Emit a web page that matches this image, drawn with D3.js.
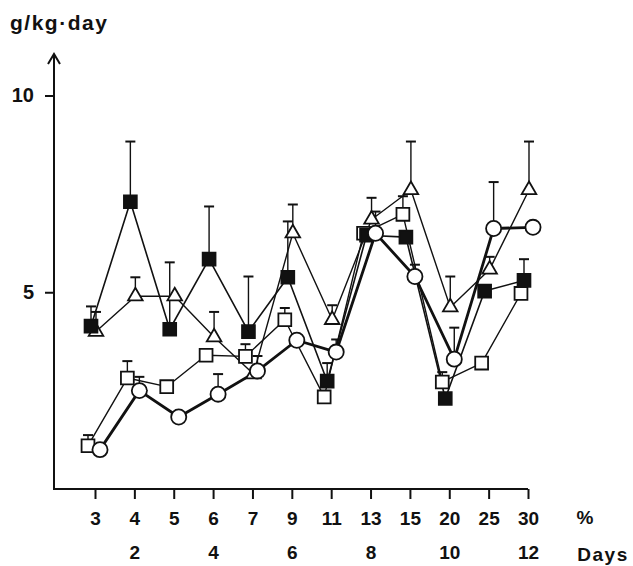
<!DOCTYPE html>
<html>
<head>
<meta charset="utf-8">
<script src="https://cdn.jsdelivr.net/npm/d3@7"></script>
<style>
  body { margin: 0; background: #fff; }
  svg text { font-family: "Liberation Sans", Arial, sans-serif; font-weight: bold; fill: #111; }
</style>
</head>
<body>
<div id="chart"></div>
<script>
// categories (% along the axis) and the days row under every second one
var categories = ["3", "4", "5", "6", "7", "9", "11", "13", "15", "20", "25", "30"];
var dayLabels = ["", "2", "", "4", "", "6", "", "8", "", "10", "", "12"];
var yTicks = [5, 10];

// means, and top of the error bar (null = no bar drawn)
var filledSquare = [4.14, 7.3, 4.06, 5.84, 4.0, 5.38, 2.74, 6.45, 6.4, 2.3, 5.03, 5.3];
var filledSquareErr = [4.64, 8.83, 5.76, 7.18, 5.4, 6.8, 3.2, null, null, null, null, 5.84];
var triangle = [4.0, 4.9, 4.9, 3.86, 2.92, 6.5, 4.3, 6.85, 7.6, 4.62, 5.58, 7.6];
var triangleErr = [4.5, 5.38, null, 4.5, null, 7.23, 4.67, 7.4, 8.83, 5.4, 5.9, 8.83];
var openSquare = [1.1, 2.82, 2.6, 3.4, 3.37, 4.3, 2.34, 6.5, 6.98, 2.72, 3.2, 4.97];
var openSquareErr = [1.37, 3.25, null, null, 3.68, 4.6, null, null, 7.44, 2.97, 3.35, null];
var circle = [1.0, 2.5, 1.83, 2.41, 3.0, 3.78, 3.48, 6.5, 5.4, 3.3, 6.62, 6.65];
var circleErr = [null, 2.85, null, 2.92, 3.38, null, 3.8, 7.05, 5.7, 4.1, 7.8, null];

var w = 633, h = 566;

var svg = d3.select("#chart").append("svg")
    .attr("width", w)
    .attr("height", h);

var x = d3.scalePoint().domain(categories).range([95, 528]);
var y = d3.scaleLinear().domain([0, 10]).range([489, 95.5]);

var axisX = 54;

// series, in drawing order (circles end up on top)
var series = [
    {values: openSquare, err: openSquareErr, type: d3.symbolSquare, size: 165, fill: "#fff", dx: -7, lw: 1.4},
    {values: triangle, err: triangleErr, type: d3.symbolTriangle, size: 92, fill: "#fff", dx: 1, lw: 1.4},
    {values: filledSquare, err: filledSquareErr, type: d3.symbolSquare, size: 165, fill: "#111", dx: -4, lw: 1.6},
    {values: circle, err: circleErr, type: d3.symbolCircle, size: 180, fill: "#fff", dx: 5, lw: 2.8}
];

// -----------------------------------------------------------------
// axes

// x axis baseline, starts at the y axis
svg.append("line")
    .attr("x1", axisX).attr("x2", x("30"))
    .attr("y1", y(0)).attr("y2", y(0))
    .attr("stroke", "#111").attr("stroke-width", 2);

var gx = svg.append("g")
    .attr("transform", "translate(0," + y(0) + ")")
    .call(d3.axisBottom(x).tickSize(10).tickSizeOuter(0).tickPadding(6));
gx.select(".domain").remove();
gx.selectAll(".tick line").attr("stroke", "#111").attr("stroke-width", 2);
gx.selectAll(".tick text").style("font-size", "19px").attr("dy", "1.05em");

var gd = svg.append("g")
    .attr("transform", "translate(0," + (y(0) + 53) + ")")
    .call(d3.axisBottom(x).tickSize(0).tickFormat(function (d, i) { return dayLabels[i]; }));
gd.select(".domain").remove();
gd.selectAll(".tick text").style("font-size", "19px");

svg.append("text").attr("x", 585).attr("y", 524)
    .attr("text-anchor", "middle").style("font-size", "19px").text("%");
svg.append("text").attr("x", 603).attr("y", 561)
    .attr("text-anchor", "middle").style("font-size", "19px")
    .style("letter-spacing", "1.5px").text("Days");

// y axis with arrow
svg.append("line")
    .attr("x1", axisX).attr("x2", axisX)
    .attr("y1", y(0) + 1).attr("y2", 55)
    .attr("stroke", "#111").attr("stroke-width", 2);
svg.append("path")
    .attr("d", "M" + (axisX - 6) + ",64 L" + axisX + ",54 L" + (axisX + 6) + ",64")
    .attr("fill", "none").attr("stroke", "#111").attr("stroke-width", 2);

var gy = svg.append("g")
    .attr("transform", "translate(" + axisX + ",0)")
    .call(d3.axisLeft(y).tickValues(yTicks).tickSize(9).tickPadding(11));
gy.select(".domain").remove();
gy.selectAll(".tick line").attr("stroke", "#111").attr("stroke-width", 2);
gy.selectAll(".tick text").style("font-size", "20px");

svg.append("text").attr("x", 10).attr("y", 30)
    .style("font-size", "21px").style("letter-spacing", "1.5px")
    .text("g/kg\u00b7day");

// -----------------------------------------------------------------
// error bars, lines, then markers

series.forEach(function (s) {
    var bars = categories.map(function (c, i) {
        return {c: c, v: s.values[i], e: s.err[i]};
    }).filter(function (d) { return d.e != null; });

    var g = svg.append("g");
    g.selectAll("line.bar").data(bars).enter().append("line")
        .attr("x1", function (d) { return x(d.c) + s.dx; })
        .attr("x2", function (d) { return x(d.c) + s.dx; })
        .attr("y1", function (d) { return y(d.v); })
        .attr("y2", function (d) { return y(d.e); })
        .attr("stroke", "#111").attr("stroke-width", 1.4);
    g.selectAll("line.cap").data(bars).enter().append("line")
        .attr("x1", function (d) { return x(d.c) + s.dx - 5; })
        .attr("x2", function (d) { return x(d.c) + s.dx + 5; })
        .attr("y1", function (d) { return y(d.e); })
        .attr("y2", function (d) { return y(d.e); })
        .attr("stroke", "#111").attr("stroke-width", 2);
});

series.forEach(function (s) {
    var line = d3.line()
        .x(function (d, i) { return x(categories[i]) + s.dx; })
        .y(function (d) { return y(d); });
    svg.append("path")
        .datum(s.values)
        .attr("d", line)
        .attr("fill", "none")
        .attr("stroke", "#111")
        .attr("stroke-width", s.lw)
        .attr("stroke-linejoin", "round");
});

series.forEach(function (s) {
    svg.append("g").selectAll("path")
        .data(s.values)
        .enter().append("path")
        .attr("transform", function (d, i) {
            return "translate(" + (x(categories[i]) + s.dx) + "," + y(d) + ")";
        })
        .attr("d", d3.symbol().type(s.type).size(s.size))
        .attr("fill", s.fill)
        .attr("stroke", "#111")
        .attr("stroke-width", 1.8);
});
</script>
</body>
</html>
